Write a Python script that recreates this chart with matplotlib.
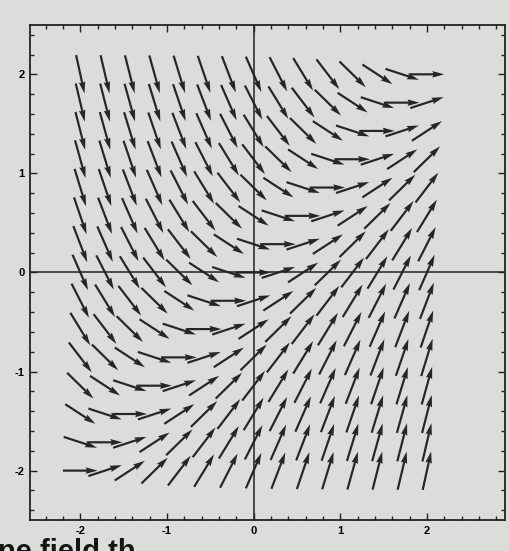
import numpy as np
import matplotlib.pyplot as plt
from matplotlib.ticker import MultipleLocator

# Direction field for dy/dx = x - y on a 15 x 15 grid
x_points = np.linspace(-2, 2, 15)
y_points = np.linspace(-2, 2, 15)
arrow_len = 0.40

major_ticks = [-2, -1, 0, 1, 2]
tick_labels = ['-2', '-1', '0', '1', '2']

X, Y = np.meshgrid(x_points, y_points)
S = X - Y
norm = np.sqrt(1 + S**2)
U = arrow_len / norm
V = arrow_len * S / norm

bg = '#dcdddb'
fig = plt.figure(figsize=(5.09, 5.51), dpi=100, facecolor=bg)
ax = fig.add_axes([0.059, 0.056, 0.933, 0.899], facecolor=bg)

ax.quiver(X, Y, U, V, angles='xy', scale_units='xy', scale=1, pivot='middle',
          color='#262626', width=0.0046, headwidth=3.0, headlength=5.5,
          headaxislength=5.0)

ax.axhline(0, color='#222222', lw=1.1)
ax.axvline(0, color='#222222', lw=1.1)

ax.set_xlim(-2.58, 2.9)
ax.set_ylim(-2.5, 2.5)

ax.set_xticks(major_ticks)
ax.set_yticks(major_ticks)
ax.set_xticklabels(tick_labels)
ax.set_yticklabels(tick_labels)
ax.xaxis.set_minor_locator(MultipleLocator(0.2))
ax.yaxis.set_minor_locator(MultipleLocator(0.2))
ax.tick_params(which='both', direction='in', top=True, right=True,
               color='#222222', width=1.0)
ax.tick_params(which='major', length=5, labelsize=8, pad=4)
ax.tick_params(which='minor', length=3)
for lab in ax.get_xticklabels() + ax.get_yticklabels():
    lab.set_fontweight('bold')
    lab.set_family('Liberation Sans')
for sp in ax.spines.values():
    sp.set_color('#222222')
    sp.set_linewidth(1.3)

# caption line running off the bottom of the page
fig.text(-0.004, -0.016, 'ne field th', fontsize=21, fontweight='bold',
         family='Liberation Sans', color='#151515', ha='left', va='baseline')

fig.savefig('out.png', dpi=100, facecolor=bg)
